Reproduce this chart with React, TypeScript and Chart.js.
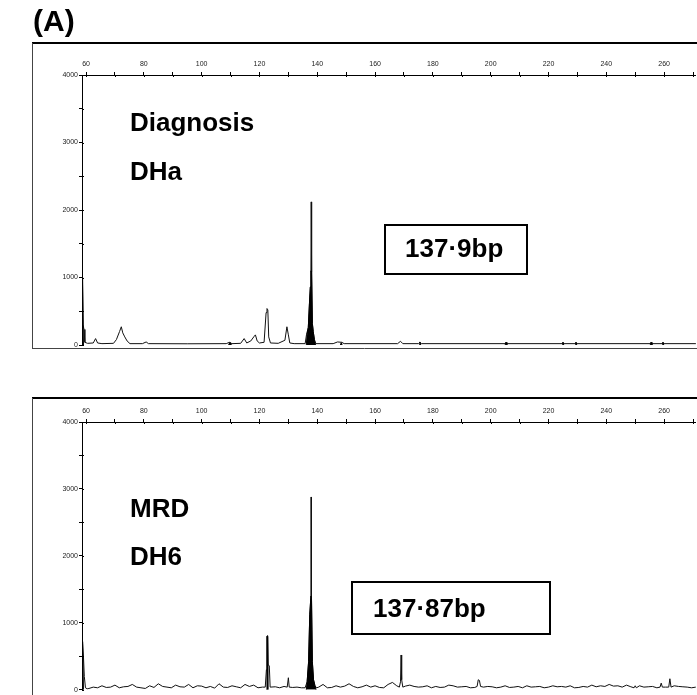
import React, { useEffect, useRef } from "react";
import { Chart, registerables } from "chart.js";
Chart.register(...registerables);

// ---- axes ----
const X_MIN = 58.6;
const X_MAX = 271;
const Y_MIN = 0;
const Y_MAX = 4000;
const X_MAJOR = 20;
const X_STEP = 10;
const Y_MAJOR = 1000;
const Y_STEP = 500;

// ---- panel labels ----
const panelTitle = "(A)";
const diagLabels = ["Diagnosis", "DHa"];
const diagSize = "137·9bp";
const mrdLabels = ["MRD", "DH6"];
const mrdSize = "137·87bp";

// ---- Diagnosis (DHa) trace: [size in bp, fluorescence] ----
const diagLine: [number, number][] = [
  [58.6, 20], [58.75, 1000], [58.95, 300], [59.3, 230], [59.6, 40], [60.5, 25],
  [62.5, 30], [63.3, 95], [64.0, 30], [65.5, 20], [69.5, 25], [70.5, 80],
  [71.6, 200], [72.2, 270], [72.7, 180], [73.4, 120], [74.2, 60], [75.2, 20],
  [79.5, 20], [80.8, 45], [81.6, 20], [95.0, 18], [108.5, 20], [109.6, 40],
  [110.5, 20], [113.5, 25], [114.7, 95], [115.6, 30], [117.0, 60], [118.2, 130],
  [118.6, 150], [119.2, 60], [120.0, 30], [121.6, 40], [122.3, 480], [122.6, 540],
  [122.9, 520], [123.2, 120], [123.8, 30], [126.5, 25], [128.8, 70], [129.5, 270],
  [130.0, 150], [130.5, 30], [132.0, 20], [135.8, 20], [136.3, 160], [136.9, 260],
  [137.3, 620], [137.6, 860], [137.8, 1100], [137.9, 2120], [138.05, 1080], [138.3, 320],
  [138.6, 200], [139.0, 80], [139.5, 20], [145.5, 20], [147.0, 45], [148.5, 40],
  [149.3, 20], [167.8, 20], [168.8, 55], [169.6, 20], [175.0, 20], [175.5, 40],
  [176.1, 20], [205.0, 20], [205.3, 40], [205.7, 20], [224.7, 20], [225.0, 40],
  [225.4, 20], [229.2, 20], [229.5, 40], [229.9, 20], [255.2, 20], [255.5, 40],
  [255.9, 20], [259.3, 20], [259.6, 40], [260.0, 20], [271, 20],
];

// filled (black) peak areas of the Diagnosis trace
const diagFilled: [number, number][][] = [
  [[58.6, 0], [58.7, 1000], [58.9, 980], [59.1, 0]],
  [[109.3, 0], [109.8, 40], [110.3, 0]],
  [[136.2, 0], [136.5, 160], [136.9, 260], [137.3, 620], [137.6, 860], [137.8, 1100],
   [138.05, 1080], [138.3, 320], [138.6, 200], [139.0, 80], [139.4, 0]],
  [[148.0, 0], [148.3, 35], [148.6, 0]],
  [[175.2, 0], [175.5, 45], [175.8, 0]],
  [[205.0, 0], [205.3, 40], [205.6, 0]],
  [[224.7, 0], [225.0, 40], [225.3, 0]],
  [[229.2, 0], [229.5, 40], [229.8, 0]],
  [[255.2, 0], [255.5, 40], [255.8, 0]],
  [[259.3, 0], [259.6, 40], [259.9, 0]],
];

// ---- MRD (DH6) trace ----
const mrdPeaks: [number, number][][] = [
  [[58.6, 20], [58.7, 720], [58.9, 700], [59.1, 500], [59.4, 200], [59.8, 30], [60.4, 15]],
  [[122.0, 40], [122.4, 300], [122.6, 800], [122.8, 810], [123.0, 370], [123.4, 360], [123.7, 40]],
  [[129.6, 40], [130.0, 180], [130.3, 40]],
  [[135.8, 30], [136.5, 120], [137.0, 420], [137.4, 1120], [137.8, 1400], [137.87, 2880],
   [138.0, 1380], [138.3, 420], [138.7, 150], [139.2, 60], [139.8, 30]],
  [[168.4, 40], [168.8, 120], [169.0, 520], [169.2, 150], [169.6, 40]],
  [[195.3, 50], [195.7, 150], [196.1, 140], [196.5, 50]],
  [[249.6, 30], [250.0, 60], [250.4, 30]],
  [[258.6, 40], [259.0, 100], [259.4, 40]],
  [[261.6, 40], [262.0, 165], [262.4, 40]],
];
const mrdNoiseStart = 61;
const mrdNoiseStep = 1.5;
const mrdNoise: number[] = [
  20, 40, 30, 60, 35, 40, 70, 30, 45, 50, 80, 40, 30, 20, 60, 35, 90, 50, 40, 30,
  70, 45, 40, 80, 30, 60, 55, 30, 50, 25, 90, 40, 35, 60, 45, 30, 80, 50, 70, 30,
  40, 100, 60, 45, 30, 50, 70, 35, 40, 30, 60, 50, 45, 40, 80, 30, 35, 60, 40, 55,
  90, 50, 30, 45, 70, 40, 60, 35, 30, 80, 110, 60, 40, 55, 70, 50, 40, 45, 60, 30,
  50, 35, 40, 70, 60, 40, 45, 50, 30, 35, 60, 40, 50, 45, 30, 40, 60, 35, 40, 50,
  30, 60, 40, 45, 50, 30, 40, 60, 45, 50, 40, 60, 30, 35, 50, 40, 70, 45, 60, 50,
  80, 55, 60, 40, 70, 45, 50, 60, 40, 45, 50, 30, 60, 40, 70, 60, 50, 45, 40, 30, 40,
];
const mrdFilled: [number, number][][] = [
  [[58.6, 0], [58.7, 720], [58.9, 700], [59.1, 0]],
  [[122.5, 0], [122.6, 800], [122.9, 800], [123.0, 0]],
  [[136.2, 0], [136.5, 120], [137.0, 420], [137.4, 1120], [137.8, 1400], [138.0, 1380],
   [138.3, 420], [138.7, 150], [139.2, 60], [139.6, 0]],
];

function buildMrdLine(): { x: number; y: number }[] {
  const pts: { x: number; y: number }[] = [];
  mrdNoise.forEach((v, i) => {
    const x = mrdNoiseStart + i * mrdNoiseStep;
    if (x > X_MAX) return;
    const inside = mrdPeaks.some((p) => x >= p[0][0] - 0.3 && x <= p[p.length - 1][0] + 0.3);
    if (!inside) pts.push({ x, y: v });
  });
  mrdPeaks.forEach((p) => p.forEach(([x, y]) => pts.push({ x, y })));
  pts.sort((a, b) => a.x - b.x);
  return pts;
}

const FONT = "'Liberation Sans', Arial, sans-serif";

const framePlugin = {
  id: "frame",
  beforeDraw(chart: any, _args: any, opts: any) {
    const ctx = chart.ctx;
    const w = chart.width;
    ctx.save();
    ctx.strokeStyle = "#000";
    ctx.lineWidth = 2;
    ctx.beginPath();
    ctx.moveTo(32, opts.top);
    ctx.lineTo(w, opts.top);
    ctx.stroke();
    ctx.lineWidth = 1;
    ctx.strokeStyle = "#444";
    ctx.beginPath();
    ctx.moveTo(32.5, opts.top);
    ctx.lineTo(32.5, opts.bottom);
    if (opts.drawBottom) {
      ctx.moveTo(32, opts.bottom + 0.5);
      ctx.lineTo(w, opts.bottom + 0.5);
    }
    ctx.stroke();
    ctx.restore();
  },
  afterDraw(chart: any) {
    // inner half of the tick marks, so that ticks cross the axis lines
    const ctx = chart.ctx;
    const xs = chart.scales.x;
    const ys = chart.scales.y;
    const area = chart.chartArea;
    ctx.save();
    ctx.strokeStyle = "#000";
    ctx.lineWidth = 1;
    ctx.beginPath();
    xs.ticks.forEach((t: any) => {
      const px = Math.round(xs.getPixelForValue(t.value)) + 0.5;
      ctx.moveTo(px, area.top);
      ctx.lineTo(px, area.top + 2);
    });
    ys.ticks.forEach((t: any) => {
      const py = Math.round(ys.getPixelForValue(t.value)) + 0.5;
      ctx.moveTo(area.left, py);
      ctx.lineTo(area.left + 2, py);
    });
    ctx.stroke();
    ctx.restore();
  },
};

function makeConfig(
  line: { x: number; y: number }[],
  filled: [number, number][][],
  pad: { top: number; bottom: number },
  frame: { top: number; bottom: number; drawBottom: boolean }
): any {
  const datasets: any[] = filled.map((seg) => ({
    data: seg.map(([x, y]) => ({ x, y })),
    borderColor: "#000",
    backgroundColor: "#000",
    borderWidth: 1,
    pointRadius: 0,
    fill: "origin",
    tension: 0,
  }));
  datasets.push({
    data: line,
    borderColor: "#111",
    borderWidth: 1,
    pointRadius: 0,
    fill: false,
    tension: 0,
  });
  return {
    type: "line",
    data: { datasets },
    plugins: [framePlugin],
    options: {
      animation: false,
      responsive: false,
      maintainAspectRatio: false,
      layout: { padding: { left: 42, right: 0, top: pad.top, bottom: pad.bottom } },
      plugins: {
        legend: { display: false },
        tooltip: { enabled: false },
        frame,
      },
      scales: {
        x: {
          type: "linear",
          position: "top",
          min: X_MIN,
          max: X_MAX,
          afterFit: (s: any) => { s.height = 20; },
          grid: { drawOnChartArea: false, tickLength: 3, color: "#000" },
          border: { color: "#000", width: 1 },
          ticks: {
            stepSize: X_STEP,
            includeBounds: false,
            autoSkip: false,
            maxRotation: 0,
            padding: 4,
            color: "#222",
            font: { family: FONT, size: 7 },
            callback: (v: number) => (Math.round(v) % X_MAJOR === 0 ? String(Math.round(v)) : ""),
          },
        },
        y: {
          type: "linear",
          min: Y_MIN,
          max: Y_MAX,
          afterFit: (s: any) => { s.width = 40; },
          grid: { drawOnChartArea: false, tickLength: 3, color: "#000" },
          border: { color: "#000", width: 1 },
          ticks: {
            stepSize: Y_STEP,
            autoSkip: false,
            padding: 1,
            color: "#222",
            font: { family: FONT, size: 7 },
            callback: (v: number) => (v % Y_MAJOR === 0 ? String(v) : ""),
          },
        },
      },
    },
  };
}

function Label({ text, x, baseline, size }: { text: string; x: number; baseline: number; size: number }) {
  return (
    <div
      style={{
        position: "absolute",
        left: x,
        top: baseline - 0.8465 * size,
        fontSize: size,
        lineHeight: `${size}px`,
        fontFamily: FONT,
        fontWeight: "bold",
        whiteSpace: "nowrap",
        color: "#000",
      }}
    >
      {text}
    </div>
  );
}

function Box({ x, y, w, h }: { x: number; y: number; w: number; h: number }) {
  return (
    <div
      style={{
        position: "absolute",
        left: x,
        top: y,
        width: w,
        height: h,
        border: "2px solid #000",
        boxSizing: "border-box",
      }}
    />
  );
}

export default function App() {
  const topRef = useRef<HTMLCanvasElement>(null);
  const botRef = useRef<HTMLCanvasElement>(null);

  useEffect(() => {
    const c1 = new Chart(
      topRef.current as HTMLCanvasElement,
      makeConfig(
        diagLine.map(([x, y]) => ({ x, y })),
        diagFilled,
        { top: 55, bottom: 15 },
        { top: 43, bottom: 348, drawBottom: true }
      )
    );
    const c2 = new Chart(
      botRef.current as HTMLCanvasElement,
      makeConfig(buildMrdLine(), mrdFilled, { top: 42, bottom: 2 }, { top: 38, bottom: 335, drawBottom: false })
    );
    return () => {
      c1.destroy();
      c2.destroy();
    };
  }, []);

  return (
    <div style={{ position: "absolute", left: 0, top: 0, width: 697, height: 695, overflow: "hidden", background: "#fff" }}>
      <canvas ref={topRef} width={697} height={360} style={{ position: "absolute", left: 0, top: 0, width: 697, height: 360 }} />
      <canvas ref={botRef} width={697} height={335} style={{ position: "absolute", left: 0, top: 360, width: 697, height: 335 }} />
      <Label text={panelTitle} x={33} baseline={31} size={30} />
      <Label text={diagLabels[0]} x={130} baseline={131} size={26} />
      <Label text={diagLabels[1]} x={130} baseline={180} size={26} />
      <Box x={384} y={224} w={144} h={51} />
      <Label text={diagSize} x={405} baseline={257} size={26} />
      <Label text={mrdLabels[0]} x={130} baseline={517} size={26} />
      <Label text={mrdLabels[1]} x={130} baseline={565} size={26} />
      <Box x={351} y={581} w={200} h={54} />
      <Label text={mrdSize} x={373} baseline={617} size={26} />
    </div>
  );
}
